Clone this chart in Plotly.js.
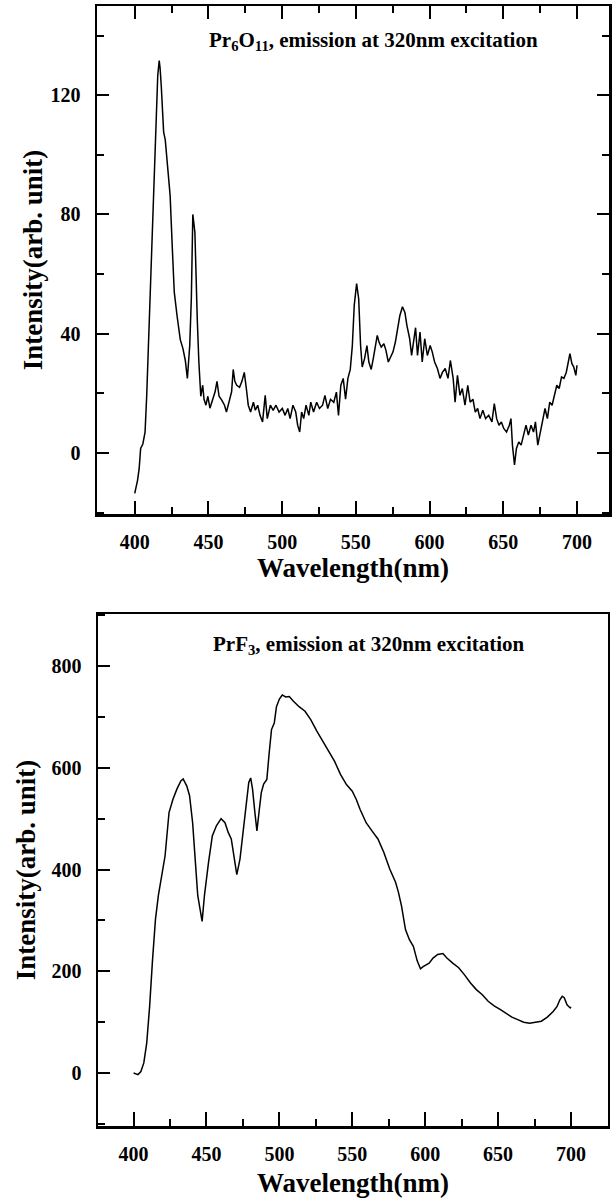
<!DOCTYPE html>
<html>
<head>
<meta charset="utf-8">
<script src="https://cdn.plot.ly/plotly-3.0.1.min.js"></script>
<style>
  html, body { margin: 0; padding: 0; background: #fff; }
  #chart { width: 616px; height: 1199px; }
</style>
</head>
<body>
<div id="chart"></div>
<script>
// ---- Top panel: Pr6O11 emission (320 nm excitation) ----
const wavelengthPr6O11 = [
  400.0, 401.9, 403.0, 404.0, 405.5, 407.0, 408.1, 409.4, 410.2, 412.0,
  414.2, 415.6, 416.6, 417.2, 418.0, 419.6, 420.7, 422.3, 424.0, 425.5,
  426.8, 428.7, 430.9, 432.7, 434.3, 435.7, 437.3, 438.4, 439.4, 440.8,
  441.6, 442.4, 443.5, 444.8, 446.1, 447.0, 448.3, 449.6, 451.0, 452.3,
  454.5, 455.8, 457.2, 459.0, 460.9, 462.2, 463.9, 465.7, 466.8, 467.9,
  469.2, 471.1, 472.7, 474.3, 475.7, 477.0, 478.6, 480.5, 481.8, 483.4,
  485.0, 486.7, 488.5, 489.9, 492.0, 493.9, 495.8, 497.9, 500.1, 502.0,
  503.8, 505.4, 507.3, 509.2, 510.5, 511.9, 513.2, 514.6, 516.2, 518.1,
  519.4, 521.3, 523.4, 525.3, 527.4, 529.0, 530.9, 532.8, 535.0, 536.8,
  538.2, 539.8, 541.4, 543.0, 544.6, 546.2, 547.6, 548.9, 550.5, 551.9,
  553.2, 554.3, 555.9, 557.5, 558.8, 560.4, 561.8, 563.1, 564.5, 565.8,
  567.2, 569.0, 570.4, 572.0, 573.6, 575.2, 576.8, 578.4, 579.8, 581.6,
  583.3, 584.6, 586.5, 587.8, 589.2, 590.5, 591.8, 593.5, 595.0, 596.7,
  598.5, 600.4, 601.8, 603.4, 605.3, 607.1, 608.7, 610.6, 612.5, 614.1,
  616.0, 617.3, 618.9, 620.6, 622.2, 624.0, 625.9, 627.5, 629.4, 631.0,
  632.6, 634.2, 636.1, 638.0, 640.1, 642.3, 643.9, 645.5, 647.1, 648.7,
  650.3, 652.2, 654.1, 655.2, 656.2, 657.6, 658.9, 660.5, 662.1, 663.7,
  665.4, 667.0, 668.8, 670.5, 671.8, 673.4, 675.0, 676.6, 678.3, 679.9,
  681.5, 683.1, 684.7, 686.3, 687.9, 689.5, 691.1, 692.7, 694.1, 695.2,
  696.5, 697.8, 699.2, 700.0
];
const intensityPr6O11 = [
  -13.6, -9.2, -5.3, 1.5, 3.0, 7.0, 19.0, 38.0, 52.5, 79.8,
  111.0, 126.6, 131.6, 129.0, 123.0, 107.6, 105.0, 95.0, 86.4, 68.6,
  54.0, 46.0, 38.0, 35.0, 31.0, 25.0, 36.0, 52.0, 80.0, 74.0,
  57.5, 45.0, 30.5, 19.0, 22.7, 18.0, 16.0, 19.0, 15.0, 17.0,
  20.5, 24.0, 19.0, 17.7, 16.0, 13.7, 17.0, 20.5, 28.0, 24.0,
  22.7, 22.0, 24.0, 27.0, 21.6, 16.0, 13.7, 17.0, 14.3, 16.0,
  12.6, 10.4, 19.3, 11.5, 16.0, 14.3, 16.0, 13.7, 14.9, 12.6,
  14.9, 11.5, 16.0, 13.7, 9.3, 7.0, 13.7, 11.5, 16.0, 12.6,
  17.0, 13.7, 17.0, 14.9, 16.0, 19.3, 14.9, 18.0, 17.0, 20.4,
  12.6, 22.7, 25.0, 18.0, 25.0, 28.0, 36.0, 49.5, 56.8, 51.7,
  36.0, 28.8, 31.6, 36.0, 30.5, 28.0, 31.6, 36.0, 39.4, 37.0,
  35.5, 36.6, 34.4, 30.5, 32.0, 33.9, 37.2, 41.7, 46.0, 49.0,
  47.0, 42.8, 38.3, 32.7, 38.3, 42.0, 32.7, 40.5, 30.5, 38.3,
  32.7, 36.0, 33.9, 30.5, 28.3, 25.0, 27.0, 28.3, 25.0, 31.0,
  25.0, 17.0, 26.0, 19.3, 21.6, 16.0, 22.7, 17.0, 18.0, 13.7,
  14.9, 11.5, 14.3, 11.5, 12.6, 10.4, 16.5, 11.5, 9.3, 10.4,
  8.2, 7.0, 9.3, 11.5, 2.6, -4.0, 1.5, 3.7, 2.6, 6.0,
  9.3, 6.0, 9.3, 7.0, 10.4, 2.6, 7.0, 11.5, 14.9, 11.5,
  17.0, 16.0, 19.3, 22.7, 21.6, 25.5, 25.0, 27.0, 30.5, 33.3,
  30.0, 28.8, 26.0, 29.4
];

// ---- Bottom panel: PrF3 emission (320 nm excitation) ----
const wavelengthPrF3 = [
  400.0, 403.0, 405.0, 407.0, 409.0, 411.0, 413.0, 415.0, 417.0, 418.9,
  421.6, 424.3, 427.0, 429.7, 432.4, 434.0, 436.5, 438.4, 440.5, 442.4,
  444.0, 447.0, 448.6, 451.4, 454.0, 456.8, 460.0, 462.7, 464.9, 467.0,
  468.9, 470.8, 473.0, 475.0, 477.0, 479.0, 480.3, 481.6, 483.2, 484.6,
  486.0, 487.6, 489.2, 491.4, 493.0, 494.6, 496.5, 498.0, 500.0, 502.0,
  504.3, 506.8, 509.5, 513.5, 517.6, 521.6, 525.7, 529.7, 533.8, 537.8,
  541.9, 546.0, 550.0, 552.7, 555.4, 559.5, 563.5, 567.6, 571.6, 575.7,
  579.7, 581.6, 583.8, 586.5, 589.2, 591.9, 594.6, 596.8, 598.6, 600.5,
  602.7, 605.4, 608.6, 612.2, 614.9, 618.9, 623.0, 627.0, 631.1, 635.1,
  639.2, 643.2, 647.3, 651.4, 655.4, 659.5, 663.5, 667.6, 671.6, 675.7,
  679.7, 683.8, 687.8, 690.5, 692.4, 694.0, 695.4, 697.3, 699.5, 700.0
];
const intensityPrF3 = [
  0, -3, 3, 20, 59, 131, 223, 302, 349, 380,
  427, 512, 538, 558, 574, 578, 564, 545, 492, 414,
  349, 298, 349, 414, 466, 486, 500, 492, 473, 460,
  421, 390, 421, 473, 525, 571, 580, 558, 512, 476,
  512, 551, 568, 577, 629, 675, 688, 720, 735, 743,
  739, 740, 731, 720, 711, 694, 672, 652, 633, 613,
  587, 567, 554, 538, 518, 492, 476, 460, 434, 401,
  375, 356, 328, 282, 262, 249, 220, 205, 209, 213,
  216, 226, 233, 235, 226, 216, 207, 193, 177, 164,
  154, 141, 132, 125, 118, 110, 105, 100, 98, 100,
  102, 110, 121, 131, 144, 151, 148, 134, 128, 130
];

// ---- Axis ticks ----
const xTickVals = [400, 450, 500, 550, 600, 650, 700];
const xTickText = ['400', '450', '500', '550', '600', '650', '700'];
const yTopTickVals = [0, 40, 80, 120];
const yTopTickText = ['0', '40', '80', '120'];
const yBotTickVals = [0, 200, 400, 600, 800];
const yBotTickText = ['0', '200', '400', '600', '800'];

const FONT = 'Liberation Serif, Times New Roman, serif';

const traces = [
  {
    x: wavelengthPr6O11, y: intensityPr6O11, xaxis: 'x', yaxis: 'y',
    type: 'scatter', mode: 'lines',
    line: { color: '#000', width: 1.5 }, hoverinfo: 'skip', showlegend: false
  },
  {
    x: wavelengthPrF3, y: intensityPrF3, xaxis: 'x2', yaxis: 'y2',
    type: 'scatter', mode: 'lines',
    line: { color: '#000', width: 1.5 }, hoverinfo: 'skip', showlegend: false
  }
];

function xAxis(domain, anchor, range, mirror, len, titleStandoff) {
  return {
    domain: domain, anchor: anchor, range: range,
    tickmode: 'array', tickvals: xTickVals, ticktext: xTickText,
    ticks: 'inside', ticklen: len, tickwidth: 2, tickcolor: '#000',
    minor: { ticks: 'inside', ticklen: 7, tickwidth: 2, tickcolor: '#000', dtick: 25, tick0: 400 },
    showline: true, linewidth: 2.5, linecolor: '#000', mirror: mirror,
    showgrid: false, zeroline: false, automargin: false,
    ticklabelstandoff: 8,
    tickfont: { family: FONT, size: 20, color: '#000', weight: 'bold' },
    title: { text: 'Wavelength(nm)', standoff: titleStandoff,
             font: { family: FONT, size: 27, color: '#000', weight: 'bold' } }
  };
}
function yAxis(domain, anchor, range, vals, text, minorDt, mirror, titleStandoff) {
  return {
    domain: domain, anchor: anchor, range: range,
    tickmode: 'array', tickvals: vals, ticktext: text,
    ticks: 'inside', ticklen: 12, tickwidth: 2, tickcolor: '#000',
    minor: { ticks: 'inside', ticklen: 7, tickwidth: 2, tickcolor: '#000', dtick: minorDt, tick0: 0 },
    showline: true, linewidth: 2.5, linecolor: '#000', mirror: mirror,
    showgrid: false, zeroline: false, automargin: false,
    ticklabelstandoff: 10,
    tickfont: { family: FONT, size: 20, color: '#000', weight: 'bold' },
    title: { text: 'Intensity(arb. unit)', standoff: titleStandoff,
             font: { family: FONT, size: 27, color: '#000', weight: 'bold' } }
  };
}

const layout = {
  width: 616, height: 1199,
  margin: { l: 97, r: 7, t: 6, b: 73 },
  paper_bgcolor: '#fff', plot_bgcolor: '#fff',
  showlegend: false,
  xaxis: xAxis([0, 1], 'y', [374.4, 721.7], 'allticks', 13, 7),
  yaxis: yAxis([0.5464, 1], 'x', [-20.5, 149.9], yTopTickVals, yTopTickText, 20, 'allticks', 0),
  xaxis2: xAxis([0.002, 0.998], 'y2', [375.6, 725.4], true, 14, 10),
  yaxis2: yAxis([0, 0.4571], 'x2', [-104, 902], yBotTickVals, yBotTickText, 100, true, 8),
  annotations: [
    { xref: 'x domain', yref: 'y domain', x: 0.54, y: 0.931, xanchor: 'center', yanchor: 'middle',
      showarrow: false, text: 'Pr<sub>6</sub>O<sub>11</sub>, emission at 320nm excitation',
      font: { family: FONT, size: 21, color: '#000', weight: 'bold' } },
    { xref: 'x2 domain', yref: 'y2 domain', x: 0.532, y: 0.939, xanchor: 'center', yanchor: 'middle',
      showarrow: false, text: 'PrF<sub>3</sub>, emission at 320nm excitation',
      font: { family: FONT, size: 21, color: '#000', weight: 'bold' } }
  ]
};

Plotly.newPlot('chart', traces, layout, { staticPlot: true, displayModeBar: false });
</script>
</body>
</html>
